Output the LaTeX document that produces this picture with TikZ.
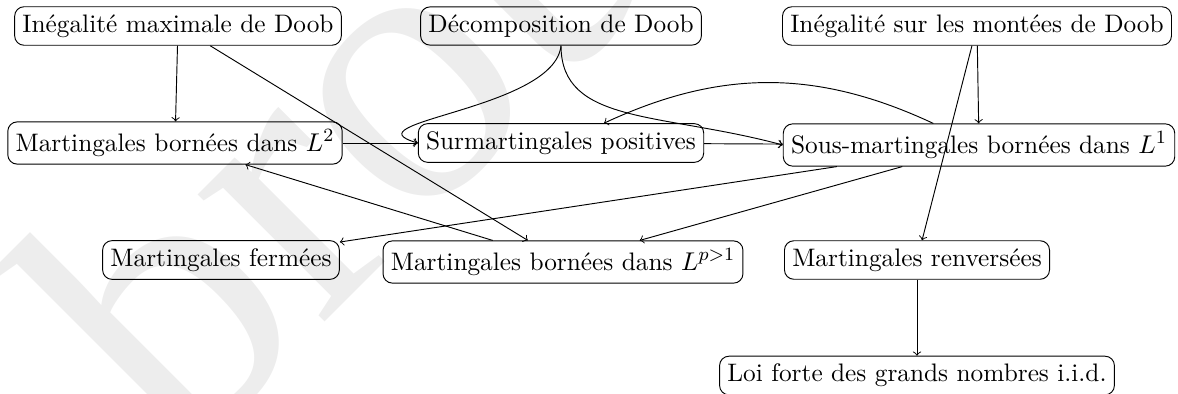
\documentclass[tikz,border=0pt]{standalone}
\usepackage{fontspec}
\usepackage{xcolor}
\usetikzlibrary{positioning}
\newfontfamily\filigranefont{Liberation Serif}
\definecolor{filigrane}{gray}{0.93}

\begin{document}
\begin{tikzpicture}[x=0.015cm, y=-0.015cm,
  bloc/.style={draw, rounded corners, font=\fontsize{10.8}{13}\selectfont},
  fl/.style={->},
  wmark/.style={font=\filigranefont\fontsize{167}{167}\selectfont, color=filigrane, inner sep=0pt}
]
\useasboundingbox (0,0) rectangle (1178,394);
\begin{scope}
  \clip (0,0) rectangle (1178,394);
  \node[wmark, rotate=45, anchor=base west] (brouillon) at (181,466) {brouillon};
\end{scope}

\node[bloc] (maxineq)  at (178,26)  {Inégalité maximale de Doob};
\node[bloc] (decomp)   at (561,26)  {Décomposition de Doob};
\node[bloc] (montees)  at (977,26)  {Inégalité sur les montées de Doob};
\node[bloc] (mart2)    at (175,143) {Martingales bornées dans $L^2$};
\node[bloc] (surmart)  at (561,143) {Surmartingales positives};
\node[bloc] (sousmart) at (979,145) {Sous-martingales bornées dans $L^1$};
\node[bloc] (fermees)  at (221,260) {Martingales fermées};
\node[bloc] (martp)    at (563,262) {Martingales bornées dans $L^{p>1}$};
\node[bloc] (renv)     at (917,260) {Martingales renversées};
\node[bloc, below=1.14cm of renv] (lfgn) {Loi forte des grands nombres i.i.d.};

\draw[fl] (maxineq) -- (mart2);
\draw[fl] (maxineq) -- (martp);
\draw[fl] (decomp.south) .. controls +(-6,64) and +(-73,-21) .. (surmart.west);
\draw[fl] (decomp.south) .. controls +(0,79) and +(-123,-33) .. (sousmart.west);
\draw[fl] (montees) -- (sousmart);
\draw[fl] (montees) -- (renv);
\draw[fl] (mart2) -- (surmart);
\draw[fl] (surmart) -- (sousmart);
\draw[fl] (sousmart) to[bend right=25] (surmart);
\draw[fl] (sousmart) -- (fermees);
\draw[fl] (sousmart) -- (martp);
\draw[fl] (martp) -- (mart2);
\draw[fl] (renv) -- (lfgn);
\end{tikzpicture}
\end{document}
